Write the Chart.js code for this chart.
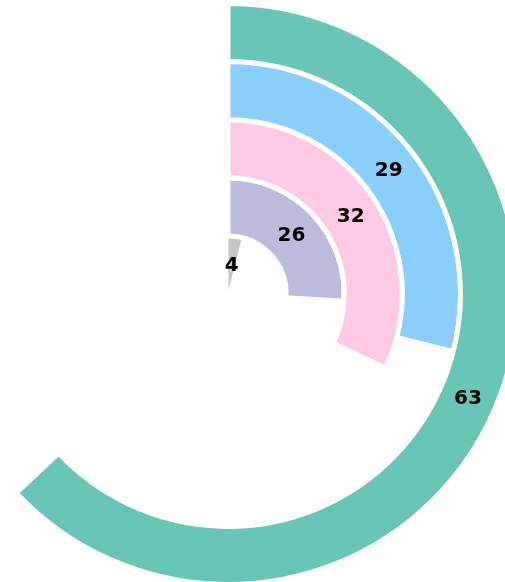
<!DOCTYPE html>
<html>
<head>
<meta charset="utf-8">
<script src="https://cdn.jsdelivr.net/npm/chart.js@4"></script>
<style>
  html, body { margin: 0; padding: 0; background: #fff; overflow: hidden; width: 505px; height: 582px; }
  #chart { position: absolute; left: -65px; top: 1px; width: 586px; height: 586px; }
</style>
</head>
<body>
<div id="chart"><canvas></canvas></div>
<script>
// values of each ring, outer ring first
const values = [63, 29, 32, 26, 4];
const colors = ['#69C5B6', '#8ACEFA', '#FDC9E4', '#BDBBDB', '#C6C6C6'];
const maxValue = 100;

// one dataset per ring: the value and the empty rest
const datasets = values.map((v, i) => ({
  data: [v, maxValue - v],
  backgroundColor: [colors[i], 'rgba(0,0,0,0)'],
  borderColor: ['#ffffff', 'rgba(0,0,0,0)'],
  borderWidth: i == values.length - 1 ? 1 : 5
}));

// write the value in the middle of each coloured arc
const valueLabels = {
  id: 'valueLabels',
  afterDatasetsDraw(chart) {
    const ctx = chart.ctx;
    ctx.save();
    ctx.font = 'bold 20px "DejaVu Sans", sans-serif';
    ctx.fillStyle = '#000';
    ctx.textAlign = 'center';
    ctx.textBaseline = 'middle';
    chart.data.datasets.forEach((ds, i) => {
      const arc = chart.getDatasetMeta(i).data[0];
      const p = arc.tooltipPosition();
      ctx.fillText(values[i], p.x, p.y + 1);
    });
    ctx.restore();
  }
};

new Chart(document.querySelector('#chart canvas'), {
  type: 'doughnut',
  data: { labels: ['value', 'rest'], datasets: datasets },
  options: {
    responsive: true,
    maintainAspectRatio: false,
    animation: false,
    cutout: 0,
    plugins: {
      legend: { display: false },
      tooltip: { enabled: false }
    }
  },
  plugins: [valueLabels]
});
</script>
</body>
</html>
